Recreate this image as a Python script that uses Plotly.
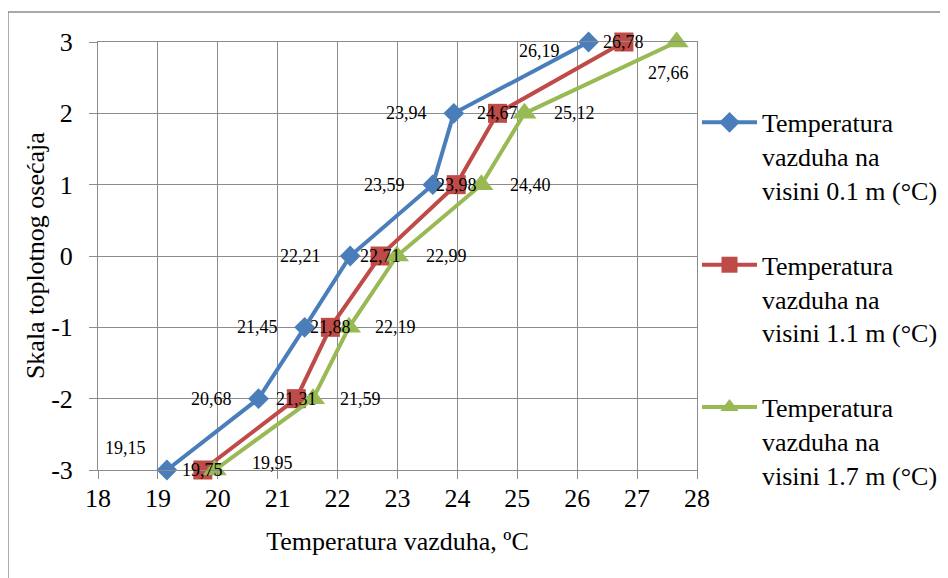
import plotly.graph_objects as go

# ---- data ----
scale_levels = [-3, -2, -1, 0, 1, 2, 3]
temp_01m = [19.15, 20.68, 21.45, 22.21, 23.59, 23.94, 26.19]
temp_11m = [19.75, 21.31, 21.88, 22.71, 23.98, 24.67, 26.78]
temp_17m = [19.95, 21.59, 22.19, 22.99, 24.40, 25.12, 27.66]
series_names = [
    "Temperatura<br>vazduha na<br>visini 0.1 m (°C)",
    "Temperatura<br>vazduha na<br>visini 1.1 m (°C)",
    "Temperatura<br>vazduha na<br>visini 1.7 m (°C)",
]
x_ticks = [18, 19, 20, 21, 22, 23, 24, 25, 26, 27, 28]
y_ticks = [-3, -2, -1, 0, 1, 2, 3]
x_title = "Temperatura vazduha, ºC"
y_title = "Skala toplotnog osećaja"

# ---- styles ----
FONT = "Liberation Serif"
colors = ["#4A7EBB", "#BE4B48", "#98B954"]
symbols = ["diamond", "square", "triangle-up"]
msizes = [16, 19, 21]
GRID = "#8C8C8C"

def fmt(v):
    return f"{v:.2f}".replace(".", ",")

fig = go.Figure()
all_series = [temp_01m, temp_11m, temp_17m]
for i, xs in enumerate(all_series):
    fig.add_trace(go.Scatter(
        x=xs, y=scale_levels, mode="lines+markers", name=series_names[i],
        line=dict(color=colors[i], width=4),
        marker=dict(symbol=symbols[i], size=msizes[i], color=colors[i]),
        cliponaxis=False, legendgroup=f"g{i}",
    ))

# data label placement (style only)
lbl_anchor = [
    ["right"] * 7,
    ["center"] * 7,
    ["left"] * 6 + ["center"],
]
lbl_xshift = [
    [-19, -25, -25, -27, -26, -25, -27],
    [0, 0, 0, 0, 0, 0, 0],
    [35, 25, 24, 27, 27, 28, -8],
]
lbl_yshift = [
    [22, 0, 0, 0, 0, 0, -9],
    [0, 0, 0, 0, 0, 0, 0],
    [7, 0, 0, 0, 0, 0, -31],
]
annotations = []
for i, xs in enumerate(all_series):
    for j, (xv, yv) in enumerate(zip(xs, scale_levels)):
        annotations.append(dict(
            x=xv, y=yv, xref="x", yref="y", text=fmt(xv), showarrow=False,
            xanchor=lbl_anchor[i][j], yanchor="middle",
            xshift=lbl_xshift[i][j], yshift=lbl_yshift[i][j],
            font=dict(family=FONT, size=18, color="black"),
        ))

annotations.append(dict(
    x=-0.105, y=0.5, xref="paper", yref="paper", text=y_title, textangle=-90,
    showarrow=False, xanchor="center", yanchor="middle",
    font=dict(family=FONT, size=26, color="black"),
))

# page body has an 8px margin, so the figure is 8px smaller and margins shifted
fig.update_layout(
    width=940, height=570,
    margin=dict(l=90, r=251, t=34, b=108, autoexpand=False),
    paper_bgcolor="white", plot_bgcolor="white",
    font=dict(family=FONT, size=26, color="black"),
    showlegend=True,
    legend=dict(
        x=1.0, y=0.867, xanchor="left", yanchor="top",
        font=dict(family=FONT, size=26, color="black"),
        tracegroupgap=38, valign="top", itemwidth=55,
        bgcolor="rgba(0,0,0,0)",
    ),
    annotations=annotations,
    shapes=[dict(
        type="rect", xref="paper", yref="paper",
        x0=-0.1503, x1=2.0, y0=-1.0, y1=1.0701,
        line=dict(color="#8C8C8C", width=1.5), layer="below",
    )],
)
fig.update_xaxes(
    range=[18, 28], tickvals=x_ticks, ticktext=[str(t) for t in x_ticks],
    automargin=False,
    showgrid=True, gridcolor=GRID, gridwidth=1, zeroline=False,
    showline=True, mirror=True, linecolor=GRID, linewidth=1,
    ticks="outside", ticklen=8, tickcolor=GRID, ticklabelstandoff=-3,
    tickfont=dict(family=FONT, size=26, color="black"),
    title=dict(text=x_title, font=dict(family=FONT, size=26, color="black"), standoff=19),
)
fig.update_yaxes(
    range=[-3, 3], tickvals=y_ticks, ticktext=[str(t) for t in y_ticks],
    automargin=False,
    showgrid=True, gridcolor=GRID, gridwidth=1, zeroline=False,
    showline=True, mirror=True, linecolor=GRID, linewidth=1,
    ticks="outside", ticklen=8, tickcolor=GRID, ticklabelstandoff=11,
    tickfont=dict(family=FONT, size=26, color="black"),
)

fig.write_html("out.html")
